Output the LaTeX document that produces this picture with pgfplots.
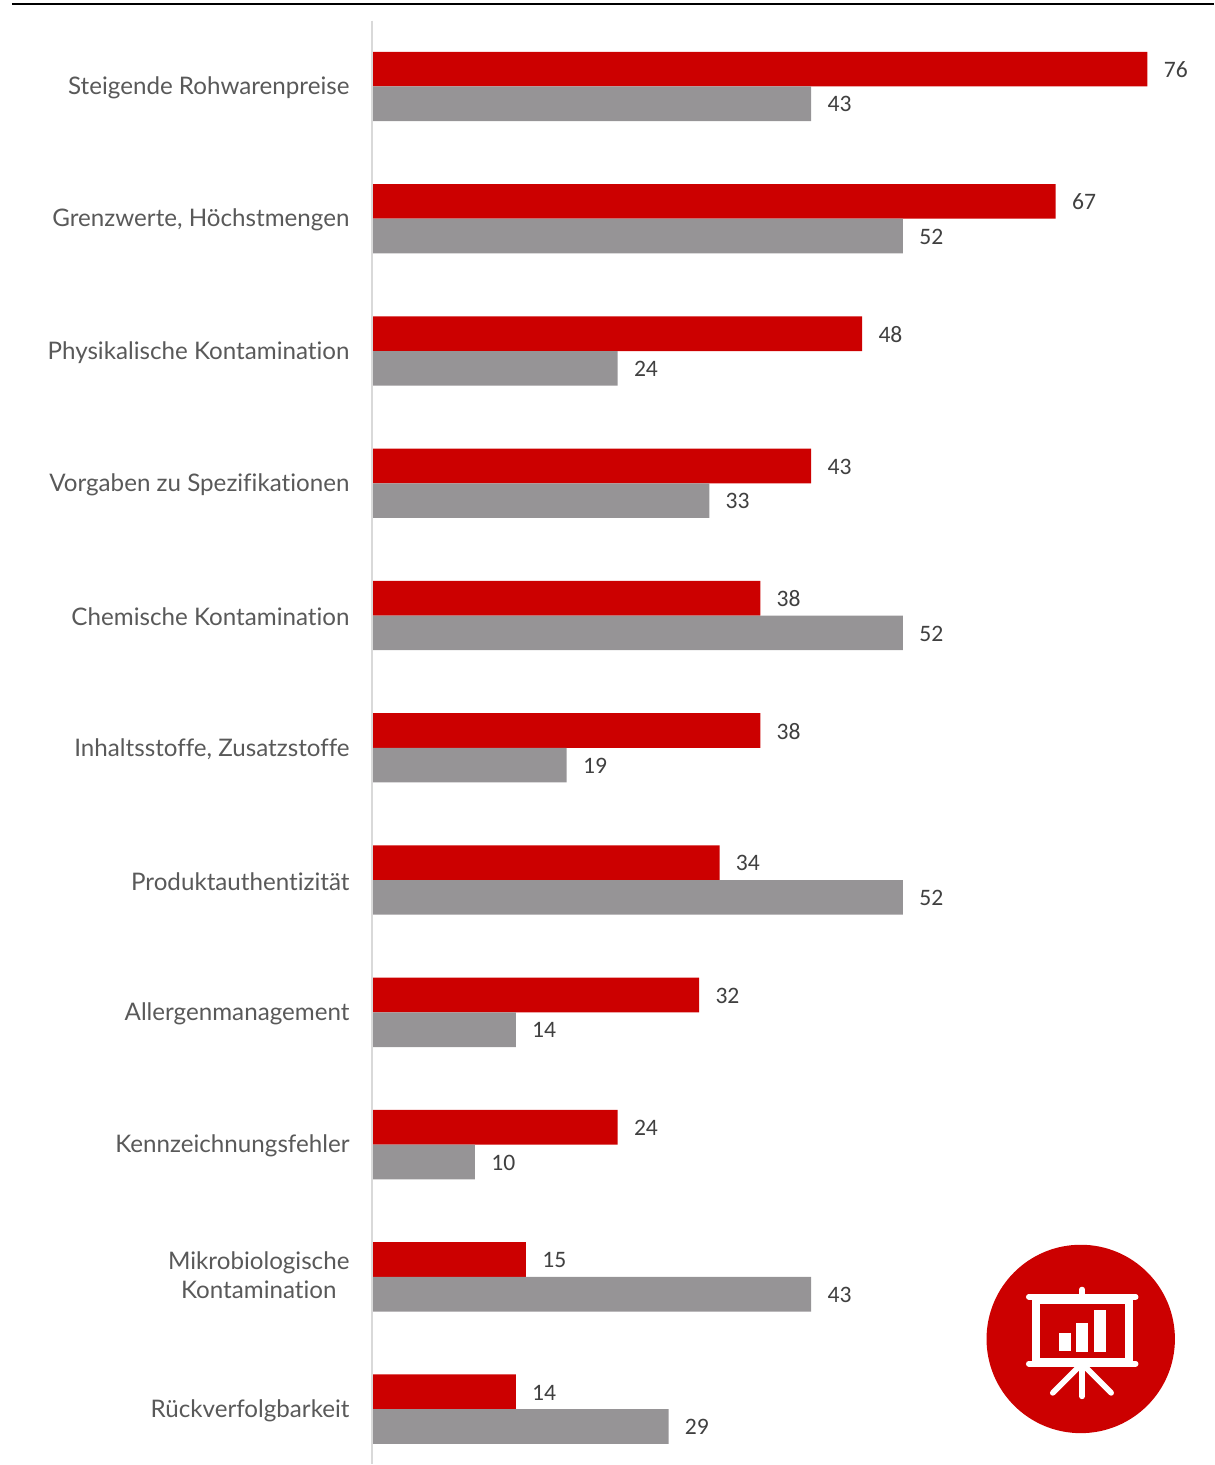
\documentclass[border=0pt]{standalone}
\usepackage{pgfplots}
\pgfplotsset{compat=1.18}
\usepackage{fontspec}
\setmainfont{Carlito}
\newfontfamily\lato[Ligatures=NoCommon]{Lato}
\definecolor{cred}{HTML}{CC0000}
\definecolor{cgray}{HTML}{969496}
\definecolor{ctext}{HTML}{595959}
\definecolor{cval}{HTML}{404040}
\definecolor{caxis}{HTML}{D9D9D9}
\begin{document}
\begin{tikzpicture}[x=0.5pt,y=-0.5pt]
\path (0,0) rectangle (1215,1465);
\draw[black,line width=0.75pt] (12,4) -- (1215,4);
\begin{axis}[
  at={(186.25pt,-732.8pt)},anchor=south west,
  scale only axis,width=421.5pt,height=722.5pt,
  xbar,bar width=17.35pt,
  xmin=-0.1,xmax=82.55,
  ymin=-0.498,ymax=10.415,
  y dir=reverse,
  axis x line=none,
  axis y line*=left,
  axis line style={caxis,line width=1.0pt,-},
  ytick={0,...,10},
  yticklabels={Steigende Rohwarenpreise,{Grenzwerte, Höchstmengen},Physikalische Kontamination,Vorgaben zu Spezifikationen,Chemische Kontamination,{Inhaltsstoffe, Zusatzstoffe},Produktauthentizität,Allergenmanagement,Kennzeichnungsfehler,{\raisebox{0.5pt}{\begin{tabular}{@{}c@{}}Mikrobiologische\\Kontamination\end{tabular}}},Rückverfolgbarkeit},
  major tick length=0pt,
  yticklabel style={font=\lato\fontsize{12.1}{14.5}\selectfont,text=ctext,anchor=east,xshift=-11.1pt,yshift=-0.6pt,inner sep=0pt},
  nodes near coords,
  point meta=explicit symbolic,
  nodes near coords style={font=\fontsize{11.8}{14}\selectfont,text=cval,anchor=west,inner sep=0pt,xshift=8pt,yshift=-0.3pt},
]
\addplot[draw=none,fill=cred,bar shift=8.675pt] table[x=v,y=c,meta=v] {
c v
0 76
1 67
2 48
3 43
4 38
5 38
6 34
7 32
8 24
9 15
10 14
};
\addplot[draw=none,fill=cgray,bar shift=-8.675pt] table[x=v,y=c,meta=v] {
c v
0 43
1 52
2 24
3 33
4 52
5 19
6 52
7 14
8 10
9 43
10 29
};
\end{axis}
% presentation icon
\begin{scope}[shift={(0.9,0.9)}]
\fill[cred] (1081,1339.5) circle[radius=94.3];
\begin{scope}[white,line width=2.8pt,line cap=round]
\fill (1032.3,1294.3) rectangle (1133.3,1367.3);
\fill[cred] (1040.7,1304.7) rectangle (1125,1358.3);
\draw (1029,1297.3) -- (1136,1297.3);
\draw (1029,1364.3) -- (1136,1364.3);
\draw (1082.3,1290) -- (1082.3,1297);
\draw (1082.3,1365) -- (1082.3,1397);
\draw (1081.5,1365) -- (1053,1393.5);
\draw (1083,1365) -- (1111.5,1393.5);
\fill (1059,1334) rectangle (1071,1352);
\fill (1076.3,1324) rectangle (1088.3,1352.3);
\fill (1094,1311) rectangle (1106,1353);
\end{scope}
\end{scope}
\end{tikzpicture}
\end{document}
